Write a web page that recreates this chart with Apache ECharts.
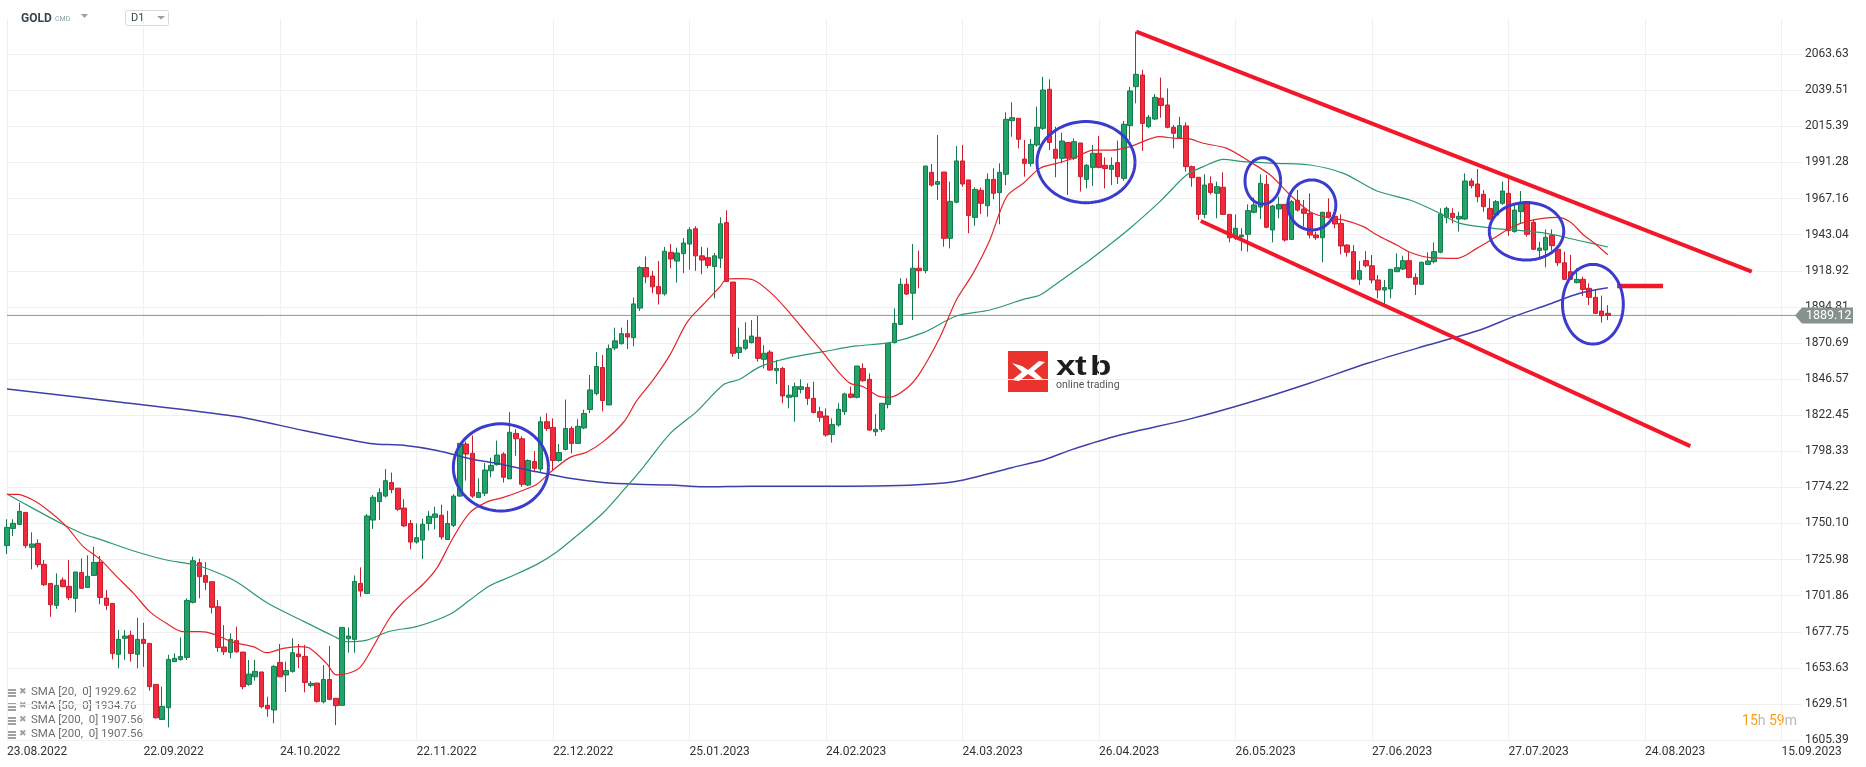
<!DOCTYPE html>
<html><head><meta charset="utf-8">
<script src="https://cdn.jsdelivr.net/npm/echarts@6/dist/echarts.min.js"></script>
<style>html,body{margin:0;padding:0;background:#fff}#c{width:1866px;height:767px}</style>
</head><body><div id="c"></div>
<script>
// ---- data ----
const xTickLabels = ['23.08.2022','22.09.2022','24.10.2022','22.11.2022','22.12.2022','25.01.2023','24.02.2023','24.03.2023','26.04.2023','26.05.2023','27.06.2023','27.07.2023','24.08.2023','15.09.2023'];
const xTickStep = 22;
const xMin = 0, xMax = 289.3;
const yTickLabels = ['1605.39','1629.51','1653.63','1677.75','1701.86','1725.98','1750.10','1774.22','1798.33','1822.45','1846.57','1870.69','1894.81','1918.92','1943.04','1967.16','1991.28','2015.39','2039.51','2063.63'];
const yMin = 1605.39, yStep = 24.1179, yMax = 2087.0;

const opens = [1735.3,1746.8,1749.5,1757.5,1734.2,1736.8,1722.8,1710.1,1695.4,1712.3,1708.1,1700.1,1717.4,1707.4,1715.4,1724.3,1700.3,1696.7,1662.7,1673.4,1675.4,1662.7,1672.7,1670.0,1642.6,1619.2,1627.0,1657.8,1659.3,1660.6,1697.4,1723.9,1715.4,1711.2,1694.5,1667.6,1664.0,1671.8,1664.2,1642.6,1647.7,1650.9,1628.6,1625.5,1657.3,1648.9,1651.3,1662.9,1661.3,1641.9,1643.5,1631.0,1645.9,1633.3,1628.6,1673.1,1672.7,1710.1,1703.4,1752.4,1764.7,
1768.4,1777.5,1773.7,1760.4,1750.1,1737.7,1739.0,1750.1,1754.2,1755.6,1739.4,1748.9,1768.4,1803.2,1797.0,1767.5,1770.3,1785.3,1789.4,1796.5,1779.9,1810.3,1806.7,1775.8,1791.5,1786.5,1818.1,1814.3,1792.2,1799.6,1813.6,1803.6,1813.9,1826.2,1836.9,1854.3,1829.3,1867.3,1870.2,1876.9,1874.2,1894.0,1921.1,1915.4,1908.5,1903.5,1931.3,1925.4,1930.4,1936.8,1947.0,1928.9,1927.7,1921.8,1927.3,1951.1,1911.4,1864.3,1867.1,
1870.9,1874.5,1859.8,1864.6,1852.2,1853.7,1834.4,1834.8,1839.7,1841.0,1833.7,1824.8,1821.9,1809.6,1815.9,1824.8,1836.6,1834.4,1853.7,1846.4,1811.4,1813.0,1829.7,1870.9,1883.1,1909.9,1903.9,1920.6,1919.0,1984.7,1976.7,1984.9,1940.6,1964.7,1992.3,1979.6,1954.6,1972.7,1962.4,1980.0,1971.1,1983.4,2019.2,2020.8,1993.6,1990.7,2003.0,2014.1,2040.2,2000.1,1994.1,2004.7,1994.1,2004.3,1980.0,1988.0,1997.4,1989.4,1986.7,1991.2,
1980.7,2015.9,2041.9,2049.7,2015.2,2020.3,2034.2,2029.7,2014.8,2007.9,2015.7,1988.5,1981.4,1956.6,1977.1,1970.7,1974.7,1956.6,1941.0,1941.7,1943.3,1958.0,1961.5,1976.7,1946.2,1960.2,1963.3,1939.9,1966.0,1960.2,1957.3,1942.8,1941.0,1958.0,1955.3,1950.6,1936.1,1931.7,1913.2,1925.7,1922.3,1912.8,1906.1,1906.8,1918.3,1920.1,1925.7,1914.5,1909.9,1923.2,1925.0,1931.3,1954.6,1957.3,1953.5,1953.5,1978.9,1976.9,1970.0,1960.6,
1956.2,1964.0,1970.7,1945.1,1958.4,1965.1,1951.3,1932.4,1932.8,1942.6,1933.3,1924.3,1918.3,1911.0,1913.2,1907.2,1901.2,1892.0,1890.5];
const closes = [1747.5,1750.2,1758.2,1735.3,1736.4,1722.6,1709.2,1695.8,1708.8,1707.9,1700.5,1717.7,1706.8,1714.8,1724.1,1700.7,1695.4,1663.3,1672.7,1674.9,1663.3,1672.7,1670.0,1641.1,1620.3,1627.9,1659.3,1660.0,1661.3,1698.7,1725.2,1714.6,1710.8,1694.1,1667.3,1664.4,1672.7,1664.4,1641.1,1649.5,1651.3,1627.7,1626.3,1654.6,1647.7,1651.9,1663.8,1661.1,1643.9,1643.3,1631.3,1645.9,1632.6,1628.4,1680.7,1674.9,1711.4,1705.0,1755.1,1767.6,1770.7,
1778.7,1772.7,1759.6,1748.5,1737.7,1740.6,1749.6,1754.9,1756.5,1741.1,1750.1,1768.4,1803.6,1796.5,1768.4,1770.8,1785.8,1788.9,1795.8,1781.0,1811.0,1806.7,1776.3,1792.2,1787.0,1818.1,1813.6,1792.2,1797.5,1813.6,1803.6,1815.0,1823.6,1839.3,1855.0,1832.2,1866.9,1872.1,1876.9,1874.7,1896.8,1921.1,1914.9,1908.2,1903.5,1932.0,1926.8,1930.8,1937.5,1946.3,1928.9,1926.1,1922.5,1928.9,1950.3,1911.8,1863.8,1867.8,1872.6,
1875.3,1860.4,1863.8,1852.6,1853.7,1835.3,1835.9,1841.5,1841.5,1833.7,1824.3,1821.0,1809.2,1816.3,1826.4,1836.6,1834.4,1855.3,1845.5,1812.5,1813.0,1830.4,1870.4,1883.8,1909.9,1903.4,1920.6,1919.0,1988.9,1976.2,1978.5,1940.6,1965.3,1992.3,1976.9,1955.8,1973.3,1964.0,1980.0,1970.7,1984.7,2020.1,2021.2,2006.8,1990.7,2003.4,2014.8,2039.7,2004.7,1994.1,2005.6,1994.1,2005.2,1981.8,1989.4,1997.4,1988.0,1987.2,1989.4,1981.8,
2016.8,2039.1,2050.2,2017.4,2021.5,2034.8,2029.3,2014.8,2010.8,2015.9,1988.5,1981.1,1956.6,1976.2,1971.3,1975.1,1956.6,1941.0,1947.3,1942.8,1959.1,1962.9,1977.4,1948.0,1962.2,1963.3,1939.5,1965.1,1959.5,1957.3,1942.8,1941.0,1958.0,1954.9,1950.2,1935.5,1931.3,1913.4,1919.0,1922.3,1912.8,1906.1,1907.7,1919.9,1921.0,1925.7,1914.5,1909.9,1924.6,1925.5,1931.7,1956.9,1960.7,1954.6,1955.3,1978.9,1975.8,1968.4,1961.8,1953.5,
1965.1,1972.2,1945.7,1959.5,1964.4,1943.3,1933.3,1934.1,1941.3,1935.7,1924.3,1913.2,1913.2,1913.2,1906.5,1901.2,1890.5,1888.9,1889.12];
const lows = [1729.7,1741.7,1749.1,1733.5,1719.5,1720.8,1708.3,1687.8,1693.1,1707.4,1699.0,1690.7,1706.3,1707.0,1715.2,1696.1,1692.3,1659.3,1653.3,1659.1,1657.8,1653.3,1654.4,1638.4,1619.7,1618.8,1613.9,1657.8,1658.4,1658.9,1696.7,1700.1,1705.6,1690.0,1664.4,1662.2,1660.0,1663.8,1639.3,1641.7,1645.1,1626.6,1621.0,1616.6,1647.7,1637.5,1650.4,1653.5,1637.3,1640.6,1630.4,1629.9,1632.1,1615.4,1628.6,1663.8,1663.8,1701.2,1703.4,1746.4,1752.4,
1767.5,1770.3,1758.5,1747.7,1732.8,1736.6,1726.3,1745.4,1746.1,1739.4,1739.4,1747.7,1768.0,1778.7,1767.2,1767.5,1768.4,1781.0,1788.7,1777.5,1779.9,1795.3,1774.6,1775.1,1785.1,1784.6,1811.9,1785.8,1791.3,1798.9,1797.0,1803.6,1813.1,1823.8,1835.7,1825.0,1829.3,1865.9,1869.7,1866.6,1868.5,1892.1,1910.6,1904.0,1896.4,1902.3,1920.6,1911.1,1917.3,1919.7,1918.9,1916.6,1920.6,1900.6,1920.8,1911.4,1861.4,1860.0,1865.9,
1870.4,1858.2,1853.7,1852.2,1843.3,1830.4,1827.0,1818.1,1837.0,1829.3,1823.7,1818.1,1808.1,1804.1,1814.8,1822.6,1833.7,1833.7,1844.8,1812.1,1808.5,1811.4,1827.0,1870.4,1882.7,1902.7,1886.0,1907.2,1917.2,1975.1,1966.2,1935.0,1933.9,1964.0,1975.1,1944.0,1949.1,1956.9,1955.1,1966.7,1950.0,1976.2,2008.5,2000.7,1981.8,1988.5,2001.9,2013.0,1999.6,1981.4,1990.7,1969.6,1992.9,1971.8,1974.0,1975.6,1987.4,1974.0,1976.2,1976.9,
1979.1,2006.3,2030.8,1999.0,2014.1,2019.7,2021.2,2014.1,2000.7,2007.4,1985.2,1975.1,1952.9,1954.0,1970.0,1954.0,1956.2,1937.9,1939.5,1932.1,1931.7,1957.3,1953.5,1947.3,1937.9,1954.0,1938.4,1939.5,1958.4,1948.4,1940.6,1939.5,1924.6,1954.0,1947.3,1929.9,1928.4,1912.8,1909.4,1921.2,1910.5,1900.5,1896.1,1900.5,1918.3,1919.4,1913.9,1902.7,1909.9,1922.8,1923.9,1930.6,1950.6,1950.6,1945.1,1952.9,1974.0,1964.7,1958.4,1952.8,
1955.1,1962.9,1942.2,1944.4,1950.6,1941.7,1932.8,1927.9,1921.2,1932.4,1922.1,1912.8,1912.8,1910.5,1902.1,1896.0,1890.0,1884.3,1886.0];
const highs = [1752.9,1752.9,1764.0,1757.5,1744.2,1739.5,1725.7,1710.1,1716.8,1714.1,1725.7,1717.7,1726.8,1728.8,1734.6,1728.4,1705.6,1696.7,1678.9,1678.9,1678.5,1687.1,1683.8,1670.0,1642.6,1641.1,1662.4,1663.3,1674.0,1700.1,1727.9,1726.6,1724.3,1711.2,1699.0,1682.2,1676.7,1681.1,1664.2,1658.9,1659.1,1650.9,1634.4,1655.5,1669.6,1657.8,1673.4,1669.6,1668.9,1644.8,1643.5,1655.5,1668.2,1633.3,1680.7,1680.7,1715.4,1720.8,1756.4,1769.1,1773.6,
1786.5,1784.1,1773.7,1766.3,1752.5,1750.1,1753.2,1758.5,1761.3,1762.7,1758.5,1769.6,1803.6,1804.8,1808.9,1780.3,1790.5,1794.1,1805.5,1797.7,1824.5,1813.1,1808.4,1792.9,1798.4,1821.5,1823.8,1820.3,1803.2,1832.9,1815.0,1819.8,1826.2,1849.3,1864.7,1862.6,1869.7,1880.9,1880.9,1886.1,1901.1,1922.0,1928.5,1918.9,1925.4,1934.9,1936.8,1934.4,1940.8,1948.2,1948.7,1934.9,1934.4,1930.8,1954.6,1959.4,1911.4,1880.9,1884.5,
1886.0,1888.7,1869.3,1866.0,1859.3,1854.8,1842.6,1844.2,1846.4,1843.7,1844.8,1828.1,1827.0,1820.3,1830.4,1837.5,1841.5,1855.3,1857.1,1850.4,1823.2,1830.4,1870.4,1893.8,1913.9,1913.9,1936.8,1932.4,1988.9,1990.3,2009.6,1984.9,1978.5,2002.3,2003.0,1979.6,1974.7,1974.5,1984.0,1987.4,1990.7,2024.8,2031.5,2020.8,2006.3,2007.0,2028.6,2048.6,2046.8,2015.2,2011.2,2004.7,2007.4,2004.3,1990.3,2003.0,2009.0,1994.7,1994.7,2005.9,
2019.0,2041.9,2078.7,2053.1,2023.0,2037.0,2048.0,2040.8,2016.3,2021.9,2018.1,1989.2,1981.4,1983.4,1982.0,1978.5,1984.7,1956.6,1956.6,1947.3,1963.3,1967.8,1983.4,1982.9,1962.9,1968.4,1963.3,1966.2,1972.9,1966.2,1970.7,1945.1,1958.4,1967.3,1956.6,1956.6,1936.6,1936.1,1925.5,1932.1,1929.5,1916.1,1912.8,1920.1,1930.6,1929.0,1931.3,1917.2,1925.0,1931.3,1937.9,1960.7,1961.8,1960.7,1958.4,1984.0,1980.7,1986.9,1972.9,1967.3,
1966.2,1978.5,1980.7,1962.9,1972.2,1965.6,1953.3,1938.4,1946.6,1946.6,1935.5,1931.7,1929.5,1920.6,1915.0,1910.5,1906.5,1902.3,1896.0];

// moving-average lines: [bar index, price]
const sma20 = [[0,1769.6],[1.6,1769.6],[4.2,1765.8],[6.9,1758.0],[9.6,1748.0],[12.3,1734.6],[15,1726.1],[17.7,1714.6],[20.4,1703.4],[23,1691.2],[25.7,1683.4],[28.4,1677.8],[31.1,1677.8],[33.3,1676.2],[36.5,1670.7],[39.7,1667.8],[41.9,1663.8],[44.5,1666.7],[47.2,1667.8],[48.8,1666.7],[51.5,1656.6],[53.1,1648.9],[55.3,1650.4],[56.9,1654.0],[58.5,1664.0],[61.7,1687.1],[63.9,1697.8],[67.1,1709.7],[69.3,1720.4],[71.9,1740.6],[74.6,1757.3],[77.3,1764.4],[80,1767.5],[82.7,1771.5],[85.4,1776.3],[87.5,1784.1],[90.7,1794.1],[93.4,1797.7],[96.1,1804.8],[99.4,1817.9],[101.5,1832.2],[104.2,1846.4],[106.9,1863.1],[109.6,1884.5],[112.2,1896.4],[114.9,1908.2],[116,1913.5],[118.1,1913.7],[120.3,1912.8],[123.5,1902.7],[126.2,1890.5],[128.9,1877.1],[131.6,1863.8],[134.2,1850.4],[135.9,1843.7],[138,1841.5],[140.7,1834.8],[142.3,1834.4],[145,1840.4],[147.1,1850.4],[150.4,1874.9],[153,1899.4],[155.7,1917.2],[158.4,1939.5],[161.1,1968.4],[163.8,1977.4],[166.5,1987.4],[169.2,1990.7],[171.9,1994.1],[175.1,1999.6],[178,1999.5],[181,2001.9],[185.8,2008.5],[188.5,2007.4],[190.1,2007.4],[192.8,2004.1],[196.6,2000.7],[200.3,1991.8],[203.6,1982.9],[206.8,1969.6],[210,1958.4],[213.3,1954.0],[215.4,1952.9],[218.6,1948.4],[220.8,1942.8],[224,1936.1],[226.1,1931.3],[229.4,1927.7],[233.7,1927.2],[236.9,1933.9],[239.6,1940.6],[242.5,1948.0],[245.5,1952.4],[249.8,1954.6],[251.9,1951.7],[254.1,1942.8],[256.2,1936.2],[258,1929.6]];
const sma50 = [[0,1769.8],[4.2,1760.2],[8.5,1750.6],[12.3,1743.1],[15,1739.5],[20.3,1731.9],[25.7,1725.7],[29,1723.5],[31.1,1721.7],[36.5,1712.3],[41.9,1697.2],[47.2,1686.0],[52.6,1674.9],[54.8,1671.1],[58,1672.2],[61.7,1678.1],[66,1681.2],[71.4,1689.5],[74.6,1699.0],[77.8,1708.5],[81.1,1714.5],[85.4,1722.8],[88.6,1731.1],[91.8,1741.8],[96.1,1757.3],[99.4,1772.5],[102.6,1788.0],[106.9,1810.3],[111.2,1825.0],[115.5,1842.9],[118.1,1846.5],[121.4,1854.9],[126.2,1860.9],[131.6,1864.9],[136.9,1868.7],[142.3,1870.9],[147.7,1877.6],[153,1888.7],[158.4,1892.7],[163.8,1899.8],[166.5,1902.7],[169.2,1910.5],[174.5,1926.1],[177.8,1936.6],[181,1947.3],[185.8,1965.1],[190.1,1982.9],[192.8,1988.5],[196.1,1993.4],[199.3,1991.8],[204.7,1990.7],[210,1989.6],[215.4,1984.0],[220.8,1972.2],[226.1,1966.2],[230.4,1958.4],[234.2,1950.6],[239.6,1947.3],[242.8,1946.2],[248.1,1943.9],[253.5,1939.0],[258,1934.8]];
const sma200 = [[0,1840.0],[18,1831.3],[37,1821.6],[48,1812.0],[58.5,1803.6],[63.9,1802.4],[69.3,1798.9],[74.6,1793.4],[80,1789.4],[85.4,1784.6],[90.7,1780.3],[96.1,1777.5],[101.5,1776.3],[106.9,1775.8],[112.2,1774.6],[119.8,1775.0],[130,1775.0],[142,1775.3],[152.3,1777.8],[161.9,1787.4],[167.3,1792.9],[171.5,1799.3],[179.4,1809.2],[190.7,1820.0],[200.3,1831.1],[209.9,1843.8],[219.4,1857.3],[229,1869.3],[237.4,1879.4],[242.8,1888.3],[248.2,1896.1],[253.5,1903.9],[258,1907.6]];

const currentPrice = 1889.12;
const upperTrend = [[182.0,2078.7],[281.2,1918.4]];
const lowerTrend = [[192.4,1952.2],[271.3,1801.8]];
const levelStub = [[259.5,1908.8],[266.9,1908.8]];
// ellipses: [centre bar, centre price, x radius in bars, y radius in price]
const circles = [[79.6,1787.6,7.66,29.1],[173.9,1991.5,7.9,27.1],[202.4,1979.0,2.87,15.5],[210.3,1962.9,3.87,16.7],[244.9,1945.3,6.0,19.2],[255.6,1896.6,4.9,26.6]];
const legendRows = ['SMA [20,  0] 1929.62','SMA [50,  0] 1934.76','SMA [200,  0] 1907.56','SMA [200,  0] 1907.56'];

// ---- chart ----
const candles = opens.map((o, i) => [i, o, closes[i], lows[i], highs[i]]);
const chart = echarts.init(document.getElementById('c'), null, {renderer: 'canvas'});
const FONT = 'Roboto, "Noto Sans", sans-serif';
const LOGOFONT = 'bold 27px Arial, "Liberation Sans", sans-serif';

const graphics = [];
// header
graphics.push({type:'text', left:21, top:13, style:{text:'GOLD', font:'bold 12px '+FONT, fill:'#37474f'}});
graphics.push({type:'text', left:55, top:16, style:{text:'CMD', font:'7px '+FONT, fill:'#90a0a8'}});
graphics.push({type:'polygon', shape:{points:[[81,14],[88,14],[84.5,18]]}, style:{fill:'#9aa0a4'}});
graphics.push({type:'rect', shape:{x:125.5,y:10.5,width:43,height:15,r:2}, style:{fill:'#fff', stroke:'#d9d9d9', lineWidth:1}});
graphics.push({type:'text', left:131, top:13, style:{text:'D1', font:'11px '+FONT, fill:'#37474f'}});
graphics.push({type:'polygon', shape:{points:[[157,16],[165,16],[161,19.5]]}, style:{fill:'#9aa0a4'}});
// legend rows
legendRows.forEach((t, k) => {
  const y = 693 + k * 14;
  graphics.push({type:'rect', shape:{x:7,y:y-4,width:9,height:2}, style:{fill:'#a0a0a0'}});
  graphics.push({type:'rect', shape:{x:7,y:y-1,width:9,height:2}, style:{fill:'#a0a0a0'}});
  graphics.push({type:'rect', shape:{x:7,y:y+2,width:9,height:2}, style:{fill:'#a0a0a0'}});
  graphics.push({type:'text', left:19, top:y-6, style:{text:'\u2716', font:'9px "DejaVu Sans"', fill:'#a0a0a0'}});
  graphics.push({type:'text', left:31, top:y-7, style:{text:t, font:'11.5px '+FONT, fill:'#6e6e6e'}});
});
// countdown
graphics.push({type:'text', right:69, top:714, style:{text:'{o|15}{g|h} {o|59}{g|m}', font:'14px '+FONT,
  rich:{o:{fill:'#f5a01a', font:'14px '+FONT}, g:{fill:'#b8b8b8', font:'14px '+FONT}}}});
// xtb logo
graphics.push({type:'rect', shape:{x:1008,y:351,width:40,height:41}, style:{fill:'#e9332c'}});
graphics.push({type:'polygon', shape:{points:[[1012,363],[1022,366],[1028,370],[1039,361],[1045,362],[1034,371],[1044,380],[1037,380],[1028,374],[1019,381],[1012,380],[1022,372]]}, style:{fill:'#fff'}});
graphics.push({type:'text', x:1056, y:354, scaleX:1.3, style:{text:'x', font:LOGOFONT, fill:'#1d1d1b'}});
graphics.push({type:'text', x:1075, y:354, scaleX:1.3, style:{text:'t', font:LOGOFONT, fill:'#1d1d1b'}});
graphics.push({type:'text', x:1090, y:354, scaleX:1.3, style:{text:'b', font:LOGOFONT, fill:'#1d1d1b'}});
graphics.push({type:'text', left:1056, top:380, style:{text:'online trading', font:'10.5px '+FONT, fill:'#555'}});

const option = {
  animation: false,
  backgroundColor: '#fff',
  grid: {left: 7, right: 64, top: 19.2, bottom: 26.9, containLabel: false},
  xAxis: {
    type: 'value', min: xMin, max: xMax, interval: xTickStep,
    axisLine: {show: false}, axisTick: {show: false},
    splitLine: {show: true, showMaxLine: false, lineStyle: {color: '#f0f0f0', width: 1}},
    axisLabel: {
      show: true, align: 'left', margin: 6, color: '#333', fontSize: 12, fontFamily: FONT,
      showMinLabel: true, showMaxLabel: true,
      formatter: v => { const k = Math.round(v / xTickStep); return (Math.abs(v - k * xTickStep) < 0.01 && xTickLabels[k]) ? xTickLabels[k] : ''; }
    }
  },
  yAxis: {
    type: 'value', position: 'right', min: yMin, max: yMax, interval: yStep, scale: true,
    axisLine: {show: false}, axisTick: {show: false},
    splitLine: {show: true, showMaxLine: false, lineStyle: {color: '#f0f0f0', width: 1}},
    axisLabel: {
      show: true, margin: 3, color: '#333', fontSize: 12, fontFamily: FONT,
      formatter: v => { const k = Math.round((v - yMin) / yStep); return (Math.abs(v - (yMin + k * yStep)) < 0.05 && yTickLabels[k]) ? yTickLabels[k] : ''; }
    }
  },
  graphic: graphics,
  series: [
    {type: 'line', data: [[xMin, currentPrice], [xMax, currentPrice]], symbol: 'none', silent: true,
     lineStyle: {color: '#8a9496', width: 1}, z: 1},
    {type: 'candlestick', data: candles, encode: {x: 0, y: [1, 2, 3, 4]}, barWidth: 5, clip: false,
     itemStyle: {color: '#22a36a', color0: '#f22a3e', borderColor: '#147a4c', borderColor0: '#c91d2d', borderWidth: 1}, z: 2},
    {type: 'line', data: sma200, symbol: 'none', smooth: 0.3, lineStyle: {color: '#3f3fa9', width: 1.5}, z: 3},
    {type: 'line', data: sma50, symbol: 'none', smooth: 0.3, lineStyle: {color: '#2a9a6b', width: 1.2}, z: 3},
    {type: 'line', data: sma20, symbol: 'none', smooth: 0.3, lineStyle: {color: '#e5252c', width: 1.2}, z: 3},
    {type: 'line', data: upperTrend, symbol: 'none', lineStyle: {color: '#f3172a', width: 4}, z: 4},
    {type: 'line', data: lowerTrend, symbol: 'none', lineStyle: {color: '#f3172a', width: 4}, z: 4},
    {type: 'line', data: levelStub, symbol: 'none', lineStyle: {color: '#f3172a', width: 4.5}, z: 4},
    {type: 'custom', data: circles, z: 5, silent: true,
     encode: {x: 0, y: 1},
     renderItem: (params, api) => {
       const cx = api.value(0), cy = api.value(1), rx = api.value(2), ry = api.value(3);
       const pts = [];
       for (let k = 0; k <= 90; k++) { const t = k / 90 * Math.PI * 2; pts.push(api.coord([cx + rx * Math.cos(t), cy + ry * Math.sin(t)])); }
       return {type: 'polyline', shape: {points: pts}, style: {stroke: '#3b3bd0', lineWidth: 3, fill: null}};
     }},
    {type: 'custom', data: [[xMax, currentPrice]], z: 10, silent: true,
     encode: {x: 0, y: 1},
     renderItem: (params, api) => {
       const p = api.coord([api.value(0), api.value(1)]);
       const x = p[0], y = p[1];
       return {type: 'group', children: [
         {type: 'polygon', shape: {points: [[x - 7, y], [x, y - 8], [x + 51, y - 8], [x + 51, y + 8], [x, y + 8]]}, style: {fill: '#87918f'}},
         {type: 'text', style: {text: currentPrice.toFixed(2), x: x + 4, y: y + 0.5, fill: '#fff', font: '12.5px ' + FONT, align: 'left', verticalAlign: 'middle'}}
       ]};
     }}
  ]
};
chart.setOption(option);
</script>
</body></html>
